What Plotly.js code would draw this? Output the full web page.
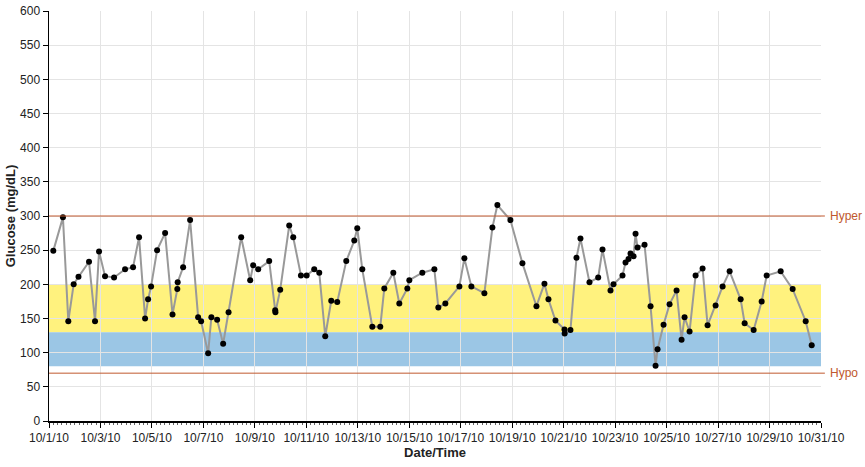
<!DOCTYPE html>
<html>
<head>
<meta charset="utf-8">
<script src="https://cdn.plot.ly/plotly-3.0.1.min.js"></script>
<style>html,body{margin:0;padding:0;background:#fff;}#chart{width:865px;height:467px;}</style>
</head>
<body>
<div id="chart"></div>
<script>
const times = [
"2010-10-01 04:00","2010-10-01 13:00","2010-10-01 18:00","2010-10-01 23:00","2010-10-02 03:30",
"2010-10-02 13:20","2010-10-02 18:56","2010-10-02 22:40","2010-10-03 04:16","2010-10-03 12:40",
"2010-10-03 22:57","2010-10-04 06:24","2010-10-04 12:00","2010-10-04 17:37","2010-10-04 20:25",
"2010-10-04 23:13","2010-10-05 04:49","2010-10-05 12:17","2010-10-05 19:12","2010-10-05 23:40",
"2010-10-06 00:00","2010-10-06 05:05","2010-10-06 11:37","2010-10-06 19:05","2010-10-06 21:53",
"2010-10-07 04:25","2010-10-07 07:25","2010-10-07 12:49","2010-10-07 18:25","2010-10-07 23:28",
"2010-10-08 11:14","2010-10-08 19:38","2010-10-08 22:26","2010-10-09 03:06","2010-10-09 13:22",
"2010-10-09 18:58","2010-10-09 19:10","2010-10-09 23:38","2010-10-10 08:02","2010-10-10 11:46",
"2010-10-10 18:58","2010-10-11 00:17","2010-10-11 07:22","2010-10-11 12:03","2010-10-11 17:38",
"2010-10-11 23:14","2010-10-12 04:50","2010-10-12 13:15","2010-10-12 20:43","2010-10-12 23:31",
"2010-10-13 04:11","2010-10-13 13:31","2010-10-13 20:58","2010-10-14 00:43","2010-10-14 09:07",
"2010-10-14 14:43","2010-10-14 22:12","2010-10-15 00:03","2010-10-15 12:11","2010-10-15 23:24",
"2010-10-16 03:07","2010-10-16 09:39","2010-10-16 22:43","2010-10-17 03:23","2010-10-17 09:56",
"2010-10-17 22:03","2010-10-18 05:32","2010-10-18 10:12","2010-10-18 22:20","2010-10-19 09:32",
"2010-10-19 22:37","2010-10-20 06:04","2010-10-20 09:49","2010-10-20 16:21","2010-10-21 00:45",
"2010-10-21 00:55","2010-10-21 06:20","2010-10-21 11:57","2010-10-21 15:40","2010-10-22 00:04",
"2010-10-22 08:12","2010-10-22 12:13","2010-10-22 19:41","2010-10-22 22:29","2010-10-23 06:53",
"2010-10-23 09:41","2010-10-23 12:29","2010-10-23 14:21","2010-10-23 17:10","2010-10-23 19:02",
"2010-10-23 20:54","2010-10-24 03:26","2010-10-24 09:02","2010-10-24 13:42","2010-10-24 15:34",
"2010-10-24 21:10","2010-10-25 02:46","2010-10-25 09:17","2010-10-25 13:58","2010-10-25 16:45",
"2010-10-25 21:26","2010-10-26 03:02","2010-10-26 09:34","2010-10-26 14:14","2010-10-26 21:42",
"2010-10-27 04:15","2010-10-27 10:47","2010-10-27 21:03","2010-10-28 00:47","2010-10-28 09:11",
"2010-10-28 16:39","2010-10-28 21:20","2010-10-29 10:23","2010-10-29 21:34","2010-10-30 09:43",
"2010-10-30 15:20"
];
const glucose = [
249,298,146,200,211,
233,146,248,212,210,
222,225,269,150,178,
197,250,275,156,193,
203,225,294,152,146,
99,152,148,113,159,
269,206,228,222,234,
162,159,192,286,269,
213,213,222,217,124,
176,174,234,264,282,
222,138,138,194,217,
172,194,206,217,222,
166,172,197,238,197,
187,283,316,294,231,
168,201,178,147,134,
128,133,239,267,203,
210,251,191,200,213,
232,237,245,241,274,
254,258,168,81,105,
141,171,191,119,152,
131,213,223,140,169,
197,219,178,143,133,
175,213,219,193,146,
111
];
const hyperLimit = 300;
const hypoLimit = 70;
const targetBand = [130, 200];
const lowBand = [80, 130];
const limitLabels = ["Hyper", "Hypo"];

const limitColor = "#c0582e";
const data = [{
  x: times, y: glucose, type: "scatter", mode: "lines+markers",
  line: {color: "#999999", width: 2},
  marker: {color: "#000000", size: 6},
  hoverinfo: "x+y", showlegend: false
}];

const layout = {
  width: 865, height: 467,
  margin: {l: 49, r: 44, t: 11, b: 46, pad: 0},
  paper_bgcolor: "#ffffff", plot_bgcolor: "#ffffff",
  font: {family: "Liberation Sans, Arial, sans-serif", size: 12, color: "#222"},
  showlegend: false,
  xaxis: {
    type: "date",
    range: ["2010-10-01", "2010-10-31"],
    tick0: "2010-10-01", dtick: 2 * 86400000,
    tickformat: "%-m/%-d/%y",
    showgrid: true, gridcolor: "#e4e4e4", gridwidth: 1,
    showline: true, linecolor: "#000", linewidth: 1.5,
    ticks: "outside", ticklen: 5, tickcolor: "#000",
    minor: {dtick: 4 * 3600000, ticks: "outside", ticklen: 2, tickcolor: "#666", showgrid: false},
    zeroline: false,
    tickfont: {size: 12, color: "#222"},
    title: {text: "Date/Time", font: {size: 13, color: "#222", weight: "bold"}, standoff: 2}
  },
  yaxis: {
    range: [0, 600], dtick: 50,
    showgrid: true, gridcolor: "#e4e4e4", gridwidth: 1,
    showline: true, linecolor: "#000", linewidth: 1.5,
    ticks: "outside", ticklen: 5, tickcolor: "#000",
    zeroline: false,
    tickfont: {size: 12, color: "#222"},
    title: {text: "Glucose (mg/dL)", font: {size: 13, color: "#222", weight: "bold"}, standoff: 1}
  },
  shapes: [
    {type: "rect", xref: "paper", yref: "y", x0: 0, x1: 1, y0: targetBand[0], y1: targetBand[1],
     fillcolor: "#fff27e", line: {width: 0}, layer: "below"},
    {type: "rect", xref: "paper", yref: "y", x0: 0, x1: 1, y0: lowBand[0], y1: lowBand[1],
     fillcolor: "#9bc6e5", line: {width: 0}, layer: "below"},
    {type: "line", xref: "paper", yref: "y", x0: 0, x1: 1.005, y0: hyperLimit, y1: hyperLimit,
     line: {color: limitColor, width: 1}},
    {type: "line", xref: "paper", yref: "y", x0: 0, x1: 1.005, y0: hypoLimit, y1: hypoLimit,
     line: {color: limitColor, width: 1}}
  ],
  annotations: [
    {xref: "paper", yref: "y", x: 1.009, y: hyperLimit, text: limitLabels[0], showarrow: false,
     xanchor: "left", yanchor: "middle", font: {size: 12, color: limitColor}},
    {xref: "paper", yref: "y", x: 1.009, y: hypoLimit, text: limitLabels[1], showarrow: false,
     xanchor: "left", yanchor: "middle", font: {size: 12, color: limitColor}}
  ]
};

Plotly.newPlot("chart", data, layout, {displayModeBar: false, staticPlot: true});
</script>
</body>
</html>
